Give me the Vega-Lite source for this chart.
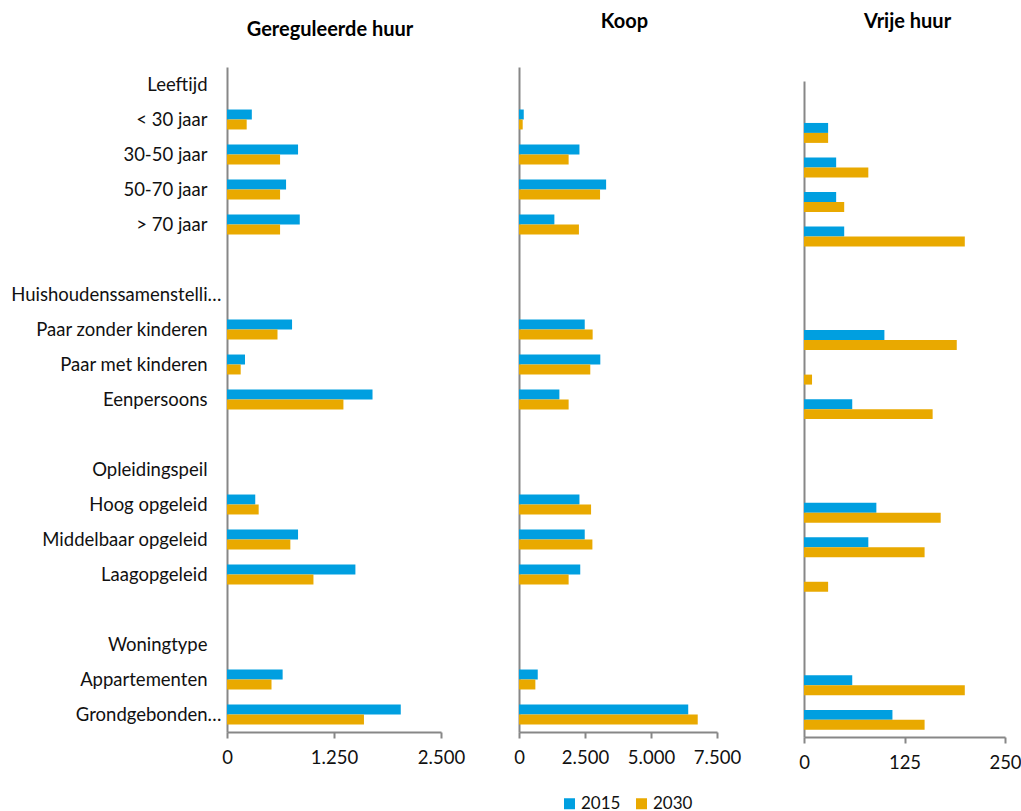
{
  "$schema": "https://vega.github.io/schema/vega-lite/v6.json",
  "padding": {"left": 10, "top": 11, "right": 5, "bottom": 0},
  "bounds": "flush",
  "spacing": 78,
  "config": {
    "view": {"stroke": null},
    "font": "Lato",
    "axis": {
      "domainColor": "#878787",
      "domainWidth": 2,
      "tickColor": "#878787",
      "tickWidth": 2,
      "labelFont": "Lato",
      "labelFontSize": 18.5,
      "labelColor": "#111111",
      "grid": false,
      "title": null
    },
    "title": {
      "font": "Lato",
      "fontSize": 20,
      "fontWeight": "bold",
      "color": "#000000",
      "anchor": "middle",
      "baseline": "alphabetic"
    },
    "legend": {
      "orient": "none",
      "legendX": 334,
      "legendY": 728,
      "direction": "horizontal",
      "title": null,
      "symbolType": "square",
      "symbolSize": 121,
      "symbolStrokeWidth": 0,
      "labelFontSize": 17,
      "labelFont": "Lato",
      "labelColor": "#111111",
      "labelOffset": 3,
      "columnPadding": 12,
      "padding": 0
    }
  },
  "datasets": {
    "gereguleerd": [
      {"groep": "< 30 jaar", "jaar": "2015", "aantal": 290},
      {"groep": "< 30 jaar", "jaar": "2030", "aantal": 230},
      {"groep": "30-50 jaar", "jaar": "2015", "aantal": 830},
      {"groep": "30-50 jaar", "jaar": "2030", "aantal": 620},
      {"groep": "50-70 jaar", "jaar": "2015", "aantal": 690},
      {"groep": "50-70 jaar", "jaar": "2030", "aantal": 620},
      {"groep": "> 70 jaar", "jaar": "2015", "aantal": 850},
      {"groep": "> 70 jaar", "jaar": "2030", "aantal": 620},
      {"groep": "Paar zonder kinderen", "jaar": "2015", "aantal": 760},
      {"groep": "Paar zonder kinderen", "jaar": "2030", "aantal": 590},
      {"groep": "Paar met kinderen", "jaar": "2015", "aantal": 210},
      {"groep": "Paar met kinderen", "jaar": "2030", "aantal": 160},
      {"groep": "Eenpersoons", "jaar": "2015", "aantal": 1700},
      {"groep": "Eenpersoons", "jaar": "2030", "aantal": 1360},
      {"groep": "Hoog opgeleid", "jaar": "2015", "aantal": 330},
      {"groep": "Hoog opgeleid", "jaar": "2030", "aantal": 370},
      {"groep": "Middelbaar opgeleid", "jaar": "2015", "aantal": 830},
      {"groep": "Middelbaar opgeleid", "jaar": "2030", "aantal": 740},
      {"groep": "Laagopgeleid", "jaar": "2015", "aantal": 1500},
      {"groep": "Laagopgeleid", "jaar": "2030", "aantal": 1010},
      {"groep": "Appartementen", "jaar": "2015", "aantal": 650},
      {"groep": "Appartementen", "jaar": "2030", "aantal": 520},
      {"groep": "Grondgebonden…", "jaar": "2015", "aantal": 2030},
      {"groep": "Grondgebonden…", "jaar": "2030", "aantal": 1600}
    ],
    "koop": [
      {"groep": "< 30 jaar", "jaar": "2015", "aantal": 180},
      {"groep": "< 30 jaar", "jaar": "2030", "aantal": 140},
      {"groep": "30-50 jaar", "jaar": "2015", "aantal": 2290},
      {"groep": "30-50 jaar", "jaar": "2030", "aantal": 1880},
      {"groep": "50-70 jaar", "jaar": "2015", "aantal": 3300},
      {"groep": "50-70 jaar", "jaar": "2030", "aantal": 3070},
      {"groep": "> 70 jaar", "jaar": "2015", "aantal": 1340},
      {"groep": "> 70 jaar", "jaar": "2030", "aantal": 2270},
      {"groep": "Paar zonder kinderen", "jaar": "2015", "aantal": 2490},
      {"groep": "Paar zonder kinderen", "jaar": "2030", "aantal": 2790},
      {"groep": "Paar met kinderen", "jaar": "2015", "aantal": 3080},
      {"groep": "Paar met kinderen", "jaar": "2030", "aantal": 2700},
      {"groep": "Eenpersoons", "jaar": "2015", "aantal": 1530},
      {"groep": "Eenpersoons", "jaar": "2030", "aantal": 1880},
      {"groep": "Hoog opgeleid", "jaar": "2015", "aantal": 2290},
      {"groep": "Hoog opgeleid", "jaar": "2030", "aantal": 2730},
      {"groep": "Middelbaar opgeleid", "jaar": "2015", "aantal": 2490},
      {"groep": "Middelbaar opgeleid", "jaar": "2030", "aantal": 2780},
      {"groep": "Laagopgeleid", "jaar": "2015", "aantal": 2320},
      {"groep": "Laagopgeleid", "jaar": "2030", "aantal": 1880},
      {"groep": "Appartementen", "jaar": "2015", "aantal": 710},
      {"groep": "Appartementen", "jaar": "2030", "aantal": 620},
      {"groep": "Grondgebonden…", "jaar": "2015", "aantal": 6410},
      {"groep": "Grondgebonden…", "jaar": "2030", "aantal": 6770}
    ],
    "vrij": [
      {"groep": "< 30 jaar", "jaar": "2015", "aantal": 30},
      {"groep": "< 30 jaar", "jaar": "2030", "aantal": 30},
      {"groep": "30-50 jaar", "jaar": "2015", "aantal": 40},
      {"groep": "30-50 jaar", "jaar": "2030", "aantal": 80},
      {"groep": "50-70 jaar", "jaar": "2015", "aantal": 40},
      {"groep": "50-70 jaar", "jaar": "2030", "aantal": 50},
      {"groep": "> 70 jaar", "jaar": "2015", "aantal": 50},
      {"groep": "> 70 jaar", "jaar": "2030", "aantal": 200},
      {"groep": "Paar zonder kinderen", "jaar": "2015", "aantal": 100},
      {"groep": "Paar zonder kinderen", "jaar": "2030", "aantal": 190},
      {"groep": "Paar met kinderen", "jaar": "2015", "aantal": 0},
      {"groep": "Paar met kinderen", "jaar": "2030", "aantal": 10},
      {"groep": "Eenpersoons", "jaar": "2015", "aantal": 60},
      {"groep": "Eenpersoons", "jaar": "2030", "aantal": 160},
      {"groep": "Hoog opgeleid", "jaar": "2015", "aantal": 90},
      {"groep": "Hoog opgeleid", "jaar": "2030", "aantal": 170},
      {"groep": "Middelbaar opgeleid", "jaar": "2015", "aantal": 80},
      {"groep": "Middelbaar opgeleid", "jaar": "2030", "aantal": 150},
      {"groep": "Laagopgeleid", "jaar": "2015", "aantal": 0},
      {"groep": "Laagopgeleid", "jaar": "2030", "aantal": 30},
      {"groep": "Appartementen", "jaar": "2015", "aantal": 60},
      {"groep": "Appartementen", "jaar": "2030", "aantal": 200},
      {"groep": "Grondgebonden…", "jaar": "2015", "aantal": 110},
      {"groep": "Grondgebonden…", "jaar": "2030", "aantal": 150}
    ]
  },
  "resolve": {"scale": {"x": "independent", "y": "independent"}},
  "hconcat": [
    {
      "width": 214,
      "height": 665,
      "title": {"text": "Gereguleerde huur", "offset": 27, "dx": -4},
      "data": {"name": "gereguleerd"},
      "mark": {"type": "bar"},
      "encoding": {
        "y": {
          "field": "groep", "type": "nominal", "sort": null,
          "scale": {
            "domain": ["Leeftijd", "< 30 jaar", "30-50 jaar", "50-70 jaar", "> 70 jaar", " ", "Huishoudenssamenstelli…", "Paar zonder kinderen", "Paar met kinderen", "Eenpersoons", "  ", "Opleidingspeil", "Hoog opgeleid", "Middelbaar opgeleid", "Laagopgeleid", "   ", "Woningtype", "Appartementen", "Grondgebonden…"],
            "paddingInner": 0.43, "paddingOuter": 0.215
          },
          "axis": {
            "ticks": false, "tickSize": 0, "labelLimit": 400,
            "labelPadding": {"condition": {"test": "indexof(datum.value, '…') >= 0", "value": 6}, "value": 20}
          }
        },
        "yOffset": {"field": "jaar", "type": "nominal", "sort": ["2015", "2030"]},
        "x": {
          "field": "aantal", "type": "quantitative",
          "scale": {"domain": [0, 2500], "nice": false},
          "axis": {"values": [0, 1250, 2500], "labelExpr": "replace(format(datum.value, ','), ',', '.')", "tickSize": 6, "labelPadding": 10, "labelFlush": false}
        },
        "color": {
          "field": "jaar", "type": "nominal",
          "scale": {"domain": ["2015", "2030"], "range": ["#009FE0", "#E9A900"]}
        }
      }
    },
    {
      "width": 207,
      "height": 665,
      "title": {"text": "Koop", "offset": 35.5, "dx": 2},
      "data": {"name": "koop"},
      "mark": {"type": "bar"},
      "encoding": {
        "y": {
          "field": "groep", "type": "nominal", "sort": null,
          "scale": {
            "domain": ["Leeftijd", "< 30 jaar", "30-50 jaar", "50-70 jaar", "> 70 jaar", " ", "Huishoudenssamenstelli…", "Paar zonder kinderen", "Paar met kinderen", "Eenpersoons", "  ", "Opleidingspeil", "Hoog opgeleid", "Middelbaar opgeleid", "Laagopgeleid", "   ", "Woningtype", "Appartementen", "Grondgebonden…"],
            "paddingInner": 0.43, "paddingOuter": 0.215
          },
          "axis": {"labels": false, "ticks": false, "tickSize": 0}
        },
        "yOffset": {"field": "jaar", "type": "nominal", "sort": ["2015", "2030"]},
        "x": {
          "field": "aantal", "type": "quantitative",
          "scale": {"domain": [0, 7500], "range": [0, 198], "nice": false},
          "axis": {"values": [0, 2500, 5000, 7500], "labelExpr": "replace(format(datum.value, ','), ',', '.')", "tickSize": 6, "labelPadding": 10, "labelFlush": false}
        },
        "color": {
          "field": "jaar", "type": "nominal",
          "scale": {"domain": ["2015", "2030"], "range": ["#009FE0", "#E9A900"]}
        }
      }
    },
    {
      "width": 201,
      "height": 670,
      "title": {"text": "Vrije huur", "offset": 35.5, "dx": 3},
      "data": {"name": "vrij"},
      "mark": {"type": "bar"},
      "encoding": {
        "y": {
          "field": "groep", "type": "nominal", "sort": null,
          "scale": {
            "domain": ["Leeftijd", "< 30 jaar", "30-50 jaar", "50-70 jaar", "> 70 jaar", " ", "Huishoudenssamenstelli…", "Paar zonder kinderen", "Paar met kinderen", "Eenpersoons", "  ", "Opleidingspeil", "Hoog opgeleid", "Middelbaar opgeleid", "Laagopgeleid", "   ", "Woningtype", "Appartementen", "Grondgebonden…"],
            "range": [14, 670],
            "paddingInner": 0.43, "paddingOuter": 0.215
          },
          "axis": {"labels": false, "ticks": false, "tickSize": 0}
        },
        "yOffset": {"field": "jaar", "type": "nominal", "sort": ["2015", "2030"]},
        "x": {
          "field": "aantal", "type": "quantitative",
          "scale": {"domain": [0, 250], "nice": false},
          "axis": {"values": [0, 125, 250], "tickSize": 6, "labelPadding": 10, "labelFlush": false}
        },
        "color": {
          "field": "jaar", "type": "nominal",
          "scale": {"domain": ["2015", "2030"], "range": ["#009FE0", "#E9A900"]}
        }
      }
    }
  ]
}
